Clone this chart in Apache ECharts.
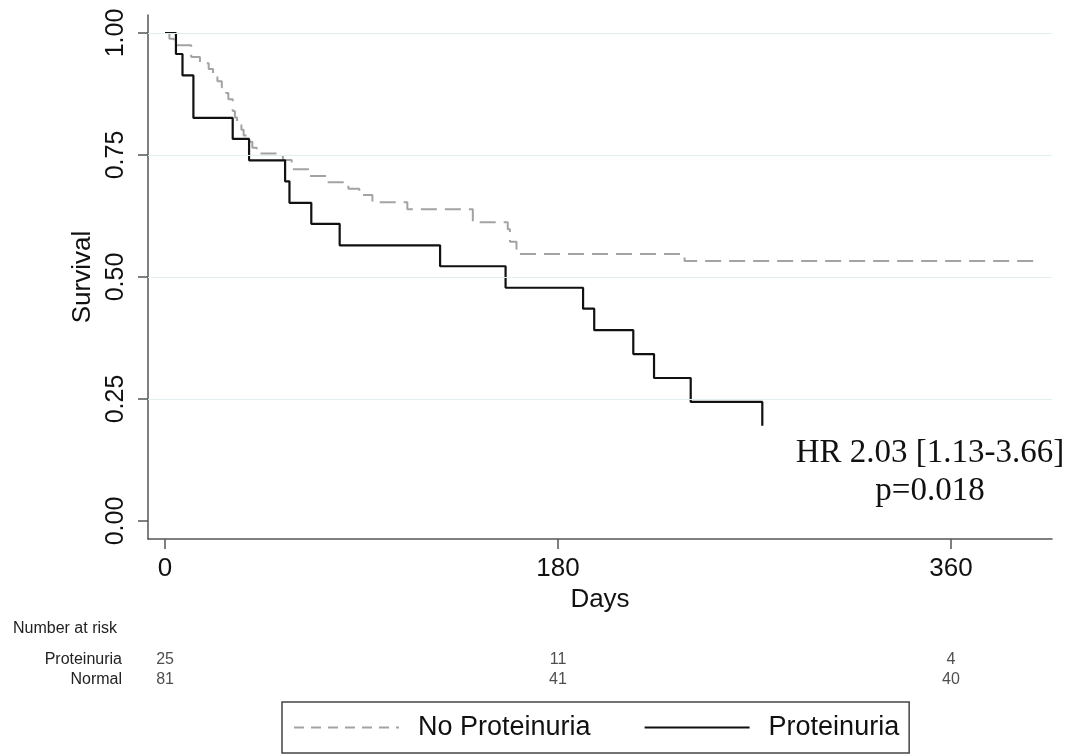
<!DOCTYPE html>
<html>
<head>
<meta charset="utf-8">
<script src="https://cdn.jsdelivr.net/npm/echarts@6/dist/echarts.min.js"></script>
<style>
  html, body { margin: 0; padding: 0; background: #fff; }
  #chart { width: 1085px; height: 755px; }
</style>
</head>
<body>
<div id="chart"></div>
<script>
// Kaplan-Meier steps (day, survival)
const noProtDays = [0, 2, 4, 12, 16, 20, 22, 24, 26, 28, 29, 31, 32, 33, 35, 36, 38, 40, 42, 54, 58, 66, 74, 84, 89, 95, 111, 141, 157, 158, 161, 238, 398]
const noProtSurv = [1, 0.988, 0.975, 0.951, 0.938, 0.926, 0.914, 0.901, 0.889, 0.877, 0.864, 0.840, 0.827, 0.815, 0.802, 0.790, 0.777, 0.765, 0.753, 0.740, 0.721, 0.707, 0.694, 0.681, 0.668, 0.653, 0.639, 0.612, 0.598, 0.572, 0.547, 0.533, 0.533]
const protDays = [0, 5, 8, 13, 31, 38.5, 55, 57, 67, 80, 126, 156, 191.5, 196.6, 214.5, 224, 240.8, 273.6]
const protSurv = [1, 0.957, 0.913, 0.826, 0.783, 0.739, 0.696, 0.652, 0.609, 0.565, 0.522, 0.478, 0.435, 0.391, 0.342, 0.293, 0.244, 0.195]

const xTicks = [0, 180, 360]
const yTicks = [0, 0.25, 0.5, 0.75, 1]
const gridValues = [0.25, 0.5, 0.75, 1]

const riskDays = [0, 180, 360]
const riskProt = [25, 11, 4]
const riskNormal = [81, 41, 40]

const font = "'Liberation Sans', Arial, sans-serif"

const toPairs = (xs, ys) => xs.map((x, i) => [x, ys[i]])
let riskData = []
riskDays.forEach((d, i) => {
  riskData.push([d, 'Proteinuria', riskProt[i]])
  riskData.push([d, 'Normal', riskNormal[i]])
})

const chart = echarts.init(document.getElementById('chart'))
const option = {
  animation: false,
  backgroundColor: '#fff',
  grid: [
    { left: 148, right: 33, top: 15, bottom: 216, outerBoundsMode: 'none' },
    { left: 148, right: 33, top: 650, height: 40, outerBoundsMode: 'none' }
  ],
  xAxis: [
    {
      type: 'value', gridIndex: 0, min: -7.8, max: 406.3,
      name: 'Days', nameLocation: 'middle', nameGap: 48,
      nameTextStyle: { fontFamily: font, fontSize: 26, color: '#111' },
      axisLine: { show: true, onZero: false, lineStyle: { color: '#555', width: 1.5 } },
      axisTick: { show: true, length: 10, customValues: xTicks, lineStyle: { color: '#555', width: 1.5 } },
      axisLabel: { customValues: xTicks, fontFamily: font, fontSize: 26, color: '#111', margin: 17 },
      splitLine: { show: false }
    },
    { type: 'value', gridIndex: 1, min: -7.8, max: 406.3, show: false }
  ],
  yAxis: [
    {
      type: 'value', gridIndex: 0, min: -0.0369, max: 1.0369,
      name: 'Survival', nameLocation: 'middle', nameGap: 50, nameRotate: 90,
      nameTextStyle: { fontFamily: font, fontSize: 26, color: '#111' },
      axisLine: { show: true, onZero: false, lineStyle: { color: '#555', width: 1.5 } },
      axisTick: { show: true, length: 10, customValues: yTicks, lineStyle: { color: '#555', width: 1.5 } },
      axisLabel: {
        customValues: yTicks, rotate: 90, fontFamily: font, fontSize: 25, color: '#111', margin: 19,
        formatter: v => v.toFixed(2)
      },
      splitLine: { show: false }
    },
    {
      type: 'category', gridIndex: 1, data: ['Normal', 'Proteinuria'],
      axisLine: { show: false }, axisTick: { show: false },
      axisLabel: { interval: 0, fontFamily: font, fontSize: 16, color: '#222', margin: 26 }
    }
  ],
  legend: {
    data: [
      { name: 'No Proteinuria', lineStyle: { type: [10, 7] } },
      { name: 'Proteinuria' }
    ],
    left: 282, top: 702,
    itemWidth: 105, itemHeight: 20, itemGap: 53,
    padding: [12, 10, 12, 11],
    borderColor: '#444', borderWidth: 1.5, borderRadius: 0,
    itemStyle: { color: 'transparent', borderColor: 'transparent', borderWidth: 0 },
    textStyle: { fontFamily: font, fontSize: 27, color: '#111', padding: [0, 0, 0, 14] }
  },
  graphic: [
    {
      type: 'text', left: 13, top: 621,
      style: { text: 'Number at risk', font: '16px ' + font, fill: '#222' }
    },
    {
      type: 'text', x: 930, y: 472,
      style: {
        text: 'HR 2.03 [1.13-3.66]\np=0.018', font: '33px "Liberation Serif", serif',
        fill: '#111', align: 'center', verticalAlign: 'middle', lineHeight: 38
      }
    }
  ],
  series: [
    {
      name: 'grid', type: 'line', data: [], z: 1, silent: true,
      markLine: {
        silent: true, symbol: 'none', label: { show: false },
        lineStyle: { color: '#e3eef1', width: 1.2, type: 'solid' },
        data: gridValues.map(v => ({ yAxis: v }))
      }
    },
    {
      name: 'No Proteinuria', type: 'line', step: 'end', symbol: 'none', z: 3,
      data: toPairs(noProtDays, noProtSurv),
      lineStyle: { color: '#a3a3a3', width: 2, type: [16, 8] },
      itemStyle: { color: '#a3a3a3' }
    },
    {
      name: 'Proteinuria', type: 'line', step: 'end', symbol: 'none', z: 4,
      data: toPairs(protDays, protSurv),
      lineStyle: { color: '#111', width: 2.2 },
      itemStyle: { color: '#111' }
    },
    {
      name: 'risk', type: 'scatter', xAxisIndex: 1, yAxisIndex: 1,
      symbolSize: 1, itemStyle: { color: 'transparent' }, silent: true,
      data: riskData,
      labelLayout: { hideOverlap: false },
      label: {
        show: true, position: 'inside', fontFamily: font, fontSize: 16, color: '#222',
        formatter: p => p.value[2]
      }
    }
  ]
}
option && chart.setOption(option)
</script>
</body>
</html>
